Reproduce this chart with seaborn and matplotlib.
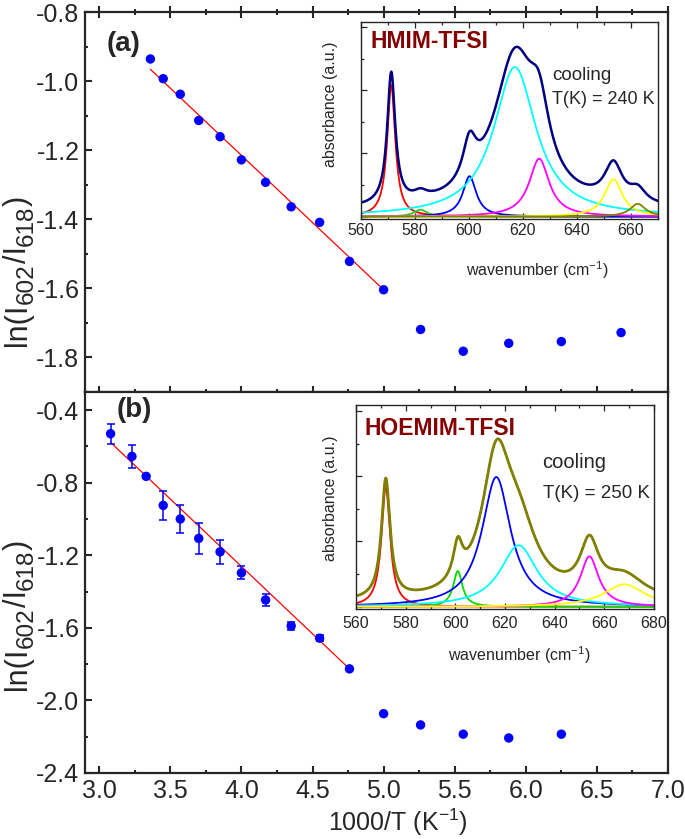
import numpy as np
import pandas as pd
import matplotlib
matplotlib.use("Agg")
import matplotlib.pyplot as plt
import seaborn as sns
from matplotlib.ticker import MultipleLocator, FormatStrFormatter

# ── data: (a) HMIM-TFSI ───────────────────────────────────────────────────────
inv_t_a = [3.36, 3.45, 3.57, 3.70, 3.85, 4.00, 4.17, 4.35, 4.55, 4.76,
           5.00, 5.26, 5.56, 5.88, 6.25, 6.67]
ln_ratio_a = [-0.936, -0.993, -1.038, -1.114, -1.161, -1.228, -1.293, -1.364,
              -1.409, -1.522, -1.604, -1.719, -1.782, -1.759, -1.754, -1.728]
fit_x_a = [3.36, 5.00]
fit_y_a = [-0.966, -1.604]

# ── data: (b) HOEMIM-TFSI ─────────────────────────────────────────────────────
inv_t_b = [3.08, 3.23, 3.33, 3.45, 3.57, 3.70, 3.85, 4.00, 4.17, 4.35, 4.55,
           4.76, 5.00, 5.26, 5.56, 5.88, 6.25]
ln_ratio_b = [-0.530, -0.655, -0.765, -0.925, -1.000, -1.107, -1.181, -1.297,
              -1.446, -1.589, -1.657, -1.826, -2.073, -2.135, -2.186, -2.207,
              -2.186]
err_b = [0.055, 0.062, 0.010, 0.080, 0.078, 0.087, 0.066, 0.036, 0.033,
         0.024, 0.015, 0.0, 0.0, 0.0, 0.0, 0.0, 0.0]
fit_x_b = [3.08, 4.76]
fit_y_b = [-0.578, -1.826]

# ── inset spectra: Lorentzian fit components (centre, height, FWHM) ──────────
peak_pos_a = [571.2, 582.0, 600.2, 617.0, 626.0, 653.5, 662.5]
peak_amp_a = [0.667, 0.035, 0.205, 0.758, 0.294, 0.190, 0.065]
peak_fwhm_a = [3.6, 6.0, 6.0, 19.0, 9.0, 8.0, 7.0]
peak_col_a = ["#ff0000", "#22cc22", "#0000ff", "#00ffff", "#ff00ff", "#ffff00", "#808000"]
background_a = 0.03

peak_pos_b = [572.0, 601.0, 616.5, 625.5, 654.0, 668.0]
peak_amp_b = [0.587, 0.175, 0.636, 0.302, 0.247, 0.110]
peak_fwhm_b = [4.2, 4.5, 14.0, 18.0, 9.0, 20.0]
peak_col_b = ["#ff0000", "#00dd00", "#0000ff", "#00ffff", "#ff00ff", "#ffff00"]
background_b = 0.018

# ── style ─────────────────────────────────────────────────────────────────────
sns.set_style("ticks")
plt.rcParams["font.family"] = ["Liberation Sans", "DejaVu Sans"]
plt.rcParams["mathtext.fontset"] = "custom"
plt.rcParams["mathtext.rm"] = "Liberation Sans"
plt.rcParams["mathtext.it"] = "Liberation Sans:italic"
plt.rcParams["axes.unicode_minus"] = False

W, H = 685, 839
fig = plt.figure(figsize=(W / 100, H / 100), dpi=100)
renderer = fig.canvas.get_renderer()


def box(x0, y0, x1, y1):
    # pixel box (top-left origin) -> figure fraction rect
    return [x0 / W, 1 - y1 / H, (x1 - x0) / W, (y1 - y0) / H]


ax_a = fig.add_axes(box(85, 12, 668, 392))
ax_b = fig.add_axes(box(85, 392, 668, 773))

BLUE = "#0000ff"
for ax in (ax_a, ax_b):
    ax.set_xlim(2.9, 7.0)
    ax.xaxis.set_major_locator(MultipleLocator(0.5))
    ax.xaxis.set_minor_locator(MultipleLocator(0.25))
    ax.yaxis.set_major_formatter(FormatStrFormatter("%.1f"))
    ax.xaxis.set_major_formatter(FormatStrFormatter("%.1f"))
    for s in ax.spines.values():
        s.set_linewidth(1.6)
    ax.tick_params(which="both", direction="in", width=1.5, labelsize=18,
                   right=False, pad=4)
    ax.tick_params(which="major", length=5)
    ax.tick_params(which="minor", length=2.5)

ax_a.set_ylim(-1.9, -0.8)
ax_a.yaxis.set_major_locator(MultipleLocator(0.2))
ax_a.yaxis.set_minor_locator(MultipleLocator(0.1))
ax_a.tick_params(axis="x", which="both", top=True, bottom=True,
                 labelbottom=False)
ax_a.tick_params(axis="x", which="major", direction="inout", length=8.5)
ax_a.tick_params(axis="x", which="minor", direction="inout", length=4)

ax_b.set_ylim(-2.4, -0.3)
ax_b.yaxis.set_major_locator(MultipleLocator(0.4))
ax_b.yaxis.set_minor_locator(MultipleLocator(0.2))
ax_b.tick_params(axis="x", which="both", top=False)

# (a) points + fit
sns.lineplot(x=fit_x_a, y=fit_y_a, ax=ax_a, color="#ff0000", lw=0.9)
sns.scatterplot(x=inv_t_a, y=ln_ratio_a, ax=ax_a, color=BLUE, s=46,
                edgecolor="none", zorder=3)

# (b) points + error bars + fit
sns.lineplot(x=fit_x_b, y=fit_y_b, ax=ax_b, color="#ff0000", lw=0.9)
ax_b.errorbar(inv_t_b, ln_ratio_b, yerr=err_b, fmt="none", ecolor=BLUE,
              elinewidth=1.1, capsize=2.8, capthick=1.1, zorder=2)
sns.scatterplot(x=inv_t_b, y=ln_ratio_b, ax=ax_b, color=BLUE, s=46,
                edgecolor="none", zorder=3)
ax_a.set_xlabel("")
ax_b.set_xlabel("")


def vertical_label(x_px, y_bottom_px, parts):
    # write rotated text piece by piece, bottom to top, so that subscripts
    # keep a near full size like in the original figure
    y = y_bottom_px
    for txt, size, shift in parts:
        t = fig.text((x_px + shift) / W, 1 - y / H, txt, rotation=90,
                     rotation_mode="anchor", ha="left", va="baseline",
                     fontsize=size)
        ext = t.get_window_extent(renderer)
        y -= ext.height


ylab_parts = [("ln(I", 22, 0), ("602", 17.5, 6.5), ("/I", 22, 0),
              ("618", 17.5, 6.5), (")", 22, 0)]
vertical_label(26, 346, ylab_parts)
vertical_label(26, 690, ylab_parts)

fig.text(398 / W, 1 - 822 / H, r"1000/T (K$^{-1}$)", fontsize=18,
         ha="center", va="center")
fig.text(107 / W, 1 - 44 / H, "(a)", fontsize=20, fontweight="bold",
         ha="left", va="center")
fig.text(117 / W, 1 - 410 / H, "(b)", fontsize=20, fontweight="bold",
         ha="left", va="center")

# ── insets ───────────────────────────────────────────────────────────────────
wn = np.arange(560, 680.25, 0.25)


def lorentz(x, x0, amp, fwhm):
    return amp / (1 + (2 * (x - x0) / fwhm) ** 2)


def draw_inset(rect, xlim, pos, amp, fwhm, cols, bg, env_col, env_lw, measured):
    ax = fig.add_axes(rect)
    total = np.full_like(wn, bg)
    for x0, a, w, c in zip(pos, amp, fwhm, cols):
        comp = lorentz(wn, x0, a, w)
        total += comp
        sns.lineplot(x=wn, y=comp, ax=ax, color=c, lw=1.3)
    if measured:
        sns.lineplot(x=wn, y=total, ax=ax, color="black", lw=1.0)
    sns.lineplot(x=wn, y=total, ax=ax, color=env_col, lw=env_lw)
    ax.set_xlim(*xlim)
    ax.xaxis.set_major_locator(MultipleLocator(20))
    ax.xaxis.set_minor_locator(MultipleLocator(10))
    ax.yaxis.set_major_locator(MultipleLocator(0.32))
    ax.yaxis.set_minor_locator(MultipleLocator(0.16))
    ax.tick_params(which="both", direction="in", top=True, right=False,
                   labelleft=False, labelsize=11.5, width=0.9)
    ax.tick_params(which="major", length=4)
    ax.tick_params(which="minor", length=2.5)
    for s in ax.spines.values():
        s.set_linewidth(1.0)
    ax.set_xlabel("")
    ax.set_ylabel("")
    return ax


ins_a = draw_inset(box(361, 21.7, 658, 219), (560, 670), peak_pos_a,
                   peak_amp_a, peak_fwhm_a, peak_col_a, background_a,
                   "#000080", 1.8, False)
ins_a.set_ylim(-0.012, 0.988)
ins_a.tick_params(axis="x", pad=3)

ins_b = draw_inset(box(356, 405, 654, 609), (560, 680), peak_pos_b,
                   peak_amp_b, peak_fwhm_b, peak_col_b, background_b,
                   "#808000", 2.0, True)
ins_b.set_ylim(-0.011, 0.989)
ins_b.tick_params(axis="x", pad=5)

DARKRED = "#850000"
fig.text(370 / W, 1 - 42 / H, "HMIM-TFSI", fontsize=16.5, fontweight="bold",
         color=DARKRED, ha="left", va="center")
fig.text(552 / W, 1 - 75 / H, "cooling", fontsize=13.5, ha="left", va="center")
fig.text(552 / W, 1 - 100 / H, "T(K) = 240 K", fontsize=13, ha="left",
         va="center")
fig.text(331 / W, 1 - 104 / H, "absorbance (a.u.)", rotation=90, fontsize=11.5,
         ha="center", va="center")
fig.text(537 / W, 1 - 270 / H, r"wavenumber (cm$^{-1}$)", fontsize=11.5,
         ha="center", va="center")

fig.text(364 / W, 1 - 428 / H, "HOEMIM-TFSI", fontsize=16.5, fontweight="bold",
         color=DARKRED, ha="left", va="center")
fig.text(542 / W, 1 - 463 / H, "cooling", fontsize=14.5, ha="left", va="center")
fig.text(543 / W, 1 - 493 / H, "T(K) = 250 K", fontsize=13.5, ha="left",
         va="center")
fig.text(330 / W, 1 - 498 / H, "absorbance (a.u.)", rotation=90, fontsize=11.5,
         ha="center", va="center")
fig.text(519 / W, 1 - 655 / H, r"wavenumber (cm$^{-1}$)", fontsize=11.5,
         ha="center", va="center")

fig.savefig("out.png", dpi=100)
